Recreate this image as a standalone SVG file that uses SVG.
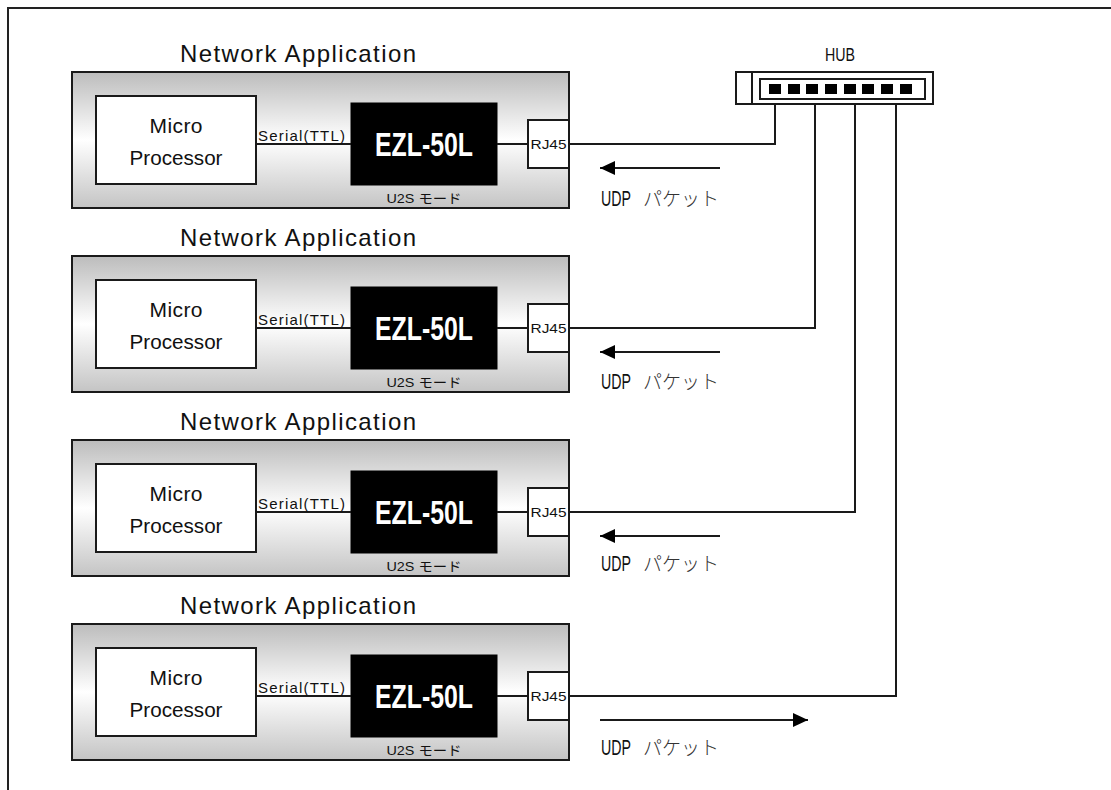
<svg xmlns="http://www.w3.org/2000/svg" width="1111" height="790" viewBox="0 0 1111 790">
<style>
  .frame{fill:none;stroke:#222;stroke-width:2}
  .app{fill:url(#gg);stroke:#1a1a1a;stroke-width:2}
  .wbox{fill:#fff;stroke:#1a1a1a;stroke-width:2}
  .chip{fill:#000;stroke:#000;stroke-width:1}
  .ln{fill:none;stroke:#1a1a1a;stroke-width:2}
  .title{font-family:"Liberation Sans","DejaVu Sans",sans-serif;font-size:24px;fill:#111}
  .mp{font-family:"Liberation Sans","DejaVu Sans",sans-serif;font-size:21px;fill:#111}
  .ser{font-family:"Liberation Sans","DejaVu Sans",sans-serif;font-size:15px;fill:#111}
  .ezl{font-family:"Liberation Sans","DejaVu Sans",sans-serif;font-size:33px;font-weight:bold;fill:#fff}
  .sm{font-family:"Liberation Sans","DejaVu Sans",sans-serif;font-size:13px;fill:#111}
  .mode{font-family:"Liberation Sans","Noto Sans CJK JP",sans-serif;font-size:13px;fill:#111}
  .udp{font-family:"Liberation Sans","DejaVu Sans",sans-serif;font-size:22px;fill:#111}
  .kana{font-family:"Noto Sans CJK JP",sans-serif;font-size:19px;font-weight:300;fill:#333}
  .hub{font-family:"Liberation Sans","DejaVu Sans",sans-serif;font-size:19px;fill:#111}
</style>
<defs>
  <linearGradient id="gg" x1="0" y1="0" x2="0" y2="1">
    <stop offset="0" stop-color="#bcbcbc"/>
    <stop offset="0.5" stop-color="#ffffff"/>
    <stop offset="1" stop-color="#c4c4c4"/>
  </linearGradient>
  <marker id="ah" markerUnits="userSpaceOnUse" markerWidth="16" markerHeight="14" refX="15" refY="7" orient="auto">
    <path d="M0,0 L15,7 L0,14 Z" fill="#000"/>
  </marker>
</defs>

<rect class="frame" x="8" y="8" width="1200" height="900"/>

<g id="row1">
  <text class="title" x="298" y="62" text-anchor="middle" textLength="236" lengthAdjust="spacing">Network Application</text>
  <g id="app1"><rect class="app" x="72" y="72" width="497" height="136"/></g>
  <g id="mcu1"><rect class="wbox" x="96" y="96" width="160" height="88"/>
    <text class="mp" x="176" y="133" text-anchor="middle" textLength="53" lengthAdjust="spacing">Micro</text>
    <text class="mp" x="176" y="165" text-anchor="middle" textLength="93" lengthAdjust="spacingAndGlyphs">Processor</text></g>
  <g id="ezl1"><rect class="chip" x="351" y="103" width="146" height="82"/>
    <text class="ezl" x="424" y="156" text-anchor="middle" textLength="98" lengthAdjust="spacingAndGlyphs">EZL-50L</text>
    <text class="mode" x="424" y="203" text-anchor="middle" textLength="75" lengthAdjust="spacingAndGlyphs">U2S モード</text></g>
  <g id="rj1"><rect class="wbox" x="528" y="120" width="41" height="48"/>
    <text class="sm" x="548.5" y="149" text-anchor="middle" textLength="36" lengthAdjust="spacingAndGlyphs">RJ45</text></g>
</g>

<g id="row2" transform="translate(0,184)">
  <text class="title" x="298" y="62" text-anchor="middle" textLength="236" lengthAdjust="spacing">Network Application</text>
  <g id="app2"><rect class="app" x="72" y="72" width="497" height="136"/></g>
  <g id="mcu2"><rect class="wbox" x="96" y="96" width="160" height="88"/>
    <text class="mp" x="176" y="133" text-anchor="middle" textLength="53" lengthAdjust="spacing">Micro</text>
    <text class="mp" x="176" y="165" text-anchor="middle" textLength="93" lengthAdjust="spacingAndGlyphs">Processor</text></g>
  <g id="ezl2"><rect class="chip" x="351" y="103" width="146" height="82"/>
    <text class="ezl" x="424" y="156" text-anchor="middle" textLength="98" lengthAdjust="spacingAndGlyphs">EZL-50L</text>
    <text class="mode" x="424" y="203" text-anchor="middle" textLength="75" lengthAdjust="spacingAndGlyphs">U2S モード</text></g>
  <g id="rj2"><rect class="wbox" x="528" y="120" width="41" height="48"/>
    <text class="sm" x="548.5" y="149" text-anchor="middle" textLength="36" lengthAdjust="spacingAndGlyphs">RJ45</text></g>
</g>

<g id="row3" transform="translate(0,368)">
  <text class="title" x="298" y="62" text-anchor="middle" textLength="236" lengthAdjust="spacing">Network Application</text>
  <g id="app3"><rect class="app" x="72" y="72" width="497" height="136"/></g>
  <g id="mcu3"><rect class="wbox" x="96" y="96" width="160" height="88"/>
    <text class="mp" x="176" y="133" text-anchor="middle" textLength="53" lengthAdjust="spacing">Micro</text>
    <text class="mp" x="176" y="165" text-anchor="middle" textLength="93" lengthAdjust="spacingAndGlyphs">Processor</text></g>
  <g id="ezl3"><rect class="chip" x="351" y="103" width="146" height="82"/>
    <text class="ezl" x="424" y="156" text-anchor="middle" textLength="98" lengthAdjust="spacingAndGlyphs">EZL-50L</text>
    <text class="mode" x="424" y="203" text-anchor="middle" textLength="75" lengthAdjust="spacingAndGlyphs">U2S モード</text></g>
  <g id="rj3"><rect class="wbox" x="528" y="120" width="41" height="48"/>
    <text class="sm" x="548.5" y="149" text-anchor="middle" textLength="36" lengthAdjust="spacingAndGlyphs">RJ45</text></g>
</g>

<g id="row4" transform="translate(0,552)">
  <text class="title" x="298" y="62" text-anchor="middle" textLength="236" lengthAdjust="spacing">Network Application</text>
  <g id="app4"><rect class="app" x="72" y="72" width="497" height="136"/></g>
  <g id="mcu4"><rect class="wbox" x="96" y="96" width="160" height="88"/>
    <text class="mp" x="176" y="133" text-anchor="middle" textLength="53" lengthAdjust="spacing">Micro</text>
    <text class="mp" x="176" y="165" text-anchor="middle" textLength="93" lengthAdjust="spacingAndGlyphs">Processor</text></g>
  <g id="ezl4"><rect class="chip" x="351" y="103" width="146" height="82"/>
    <text class="ezl" x="424" y="156" text-anchor="middle" textLength="98" lengthAdjust="spacingAndGlyphs">EZL-50L</text>
    <text class="mode" x="424" y="203" text-anchor="middle" textLength="75" lengthAdjust="spacingAndGlyphs">U2S モード</text></g>
  <g id="rj4"><rect class="wbox" x="528" y="120" width="41" height="48"/>
    <text class="sm" x="548.5" y="149" text-anchor="middle" textLength="36" lengthAdjust="spacingAndGlyphs">RJ45</text></g>
</g>

<g id="hub">
  <text class="hub" x="840" y="61" text-anchor="middle" textLength="30" lengthAdjust="spacingAndGlyphs">HUB</text>
  <rect class="wbox" x="736" y="72" width="197" height="32"/>
  <line class="ln" x1="752" y1="72" x2="752" y2="104"/>
  <rect class="wbox" x="760" y="79" width="165" height="20"/>
  <g fill="#000">
    <rect x="769" y="84" width="12" height="10"/>
    <rect x="788" y="84" width="12" height="10"/>
    <rect x="806" y="84" width="12" height="10"/>
    <rect x="825" y="84" width="12" height="10"/>
    <rect x="844" y="84" width="12" height="10"/>
    <rect x="862" y="84" width="12" height="10"/>
    <rect x="881" y="84" width="12" height="10"/>
    <rect x="900" y="84" width="12" height="10"/>
  </g>
</g>

<g id="connectors">
  <g transform="translate(0,0)">
    <line class="ln" x1="256" y1="144" x2="351" y2="144"/>
    <line class="ln" x1="497" y1="144" x2="528" y2="144"/>
  </g>
  <g transform="translate(0,184)">
    <line class="ln" x1="256" y1="144" x2="351" y2="144"/>
    <line class="ln" x1="497" y1="144" x2="528" y2="144"/>
  </g>
  <g transform="translate(0,368)">
    <line class="ln" x1="256" y1="144" x2="351" y2="144"/>
    <line class="ln" x1="497" y1="144" x2="528" y2="144"/>
  </g>
  <g transform="translate(0,552)">
    <line class="ln" x1="256" y1="144" x2="351" y2="144"/>
    <line class="ln" x1="497" y1="144" x2="528" y2="144"/>
  </g>
  <polyline class="ln" points="569,144 775,144 775,104"/>
  <polyline class="ln" points="569,328 815,328 815,104"/>
  <polyline class="ln" points="569,512 855,512 855,104"/>
  <polyline class="ln" points="569,696 896,696 896,104"/>
  <line class="ln" x1="720" y1="168" x2="600" y2="168" marker-end="url(#ah)"/>
  <line class="ln" x1="720" y1="352" x2="600" y2="352" marker-end="url(#ah)"/>
  <line class="ln" x1="720" y1="536" x2="600" y2="536" marker-end="url(#ah)"/>
  <line class="ln" x1="600" y1="720" x2="808" y2="720" marker-end="url(#ah)"/>
</g>

<g id="labels">
  <text class="ser" x="258" y="141" textLength="87" lengthAdjust="spacing">Serial(TTL)</text>
  <text class="ser" x="258" y="325" textLength="87" lengthAdjust="spacing">Serial(TTL)</text>
  <text class="ser" x="258" y="509" textLength="87" lengthAdjust="spacing">Serial(TTL)</text>
  <text class="ser" x="258" y="693" textLength="87" lengthAdjust="spacing">Serial(TTL)</text>
  <text class="udp" x="601" y="206" textLength="30" lengthAdjust="spacingAndGlyphs">UDP</text>
  <text class="kana" x="643" y="206">パケット</text>
  <text class="udp" x="601" y="389" textLength="30" lengthAdjust="spacingAndGlyphs">UDP</text>
  <text class="kana" x="643" y="389">パケット</text>
  <text class="udp" x="601" y="571" textLength="30" lengthAdjust="spacingAndGlyphs">UDP</text>
  <text class="kana" x="643" y="571">パケット</text>
  <text class="udp" x="601" y="755" textLength="30" lengthAdjust="spacingAndGlyphs">UDP</text>
  <text class="kana" x="643" y="755">パケット</text>
</g>
</svg>
